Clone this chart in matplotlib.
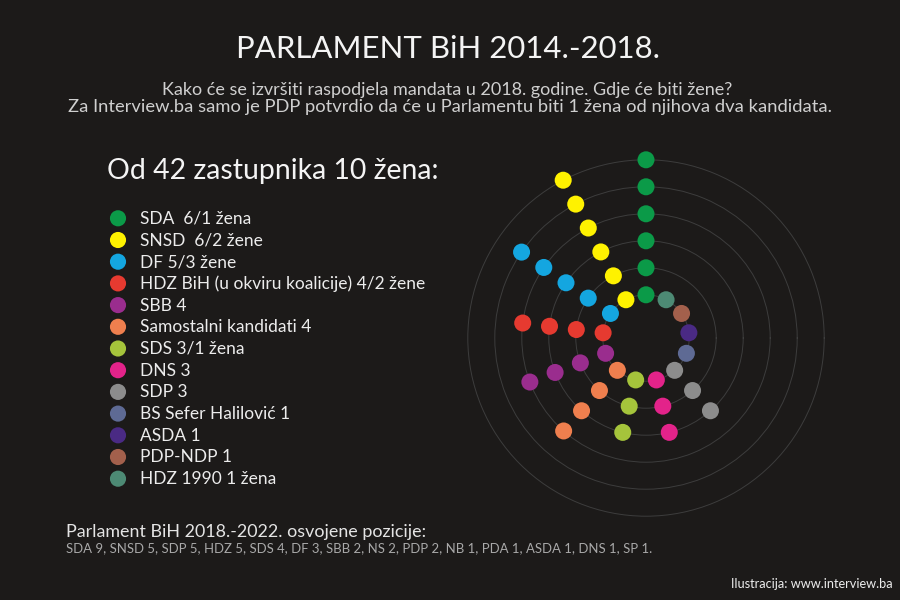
import numpy as np
import matplotlib
matplotlib.use("Agg")
import matplotlib.pyplot as plt

plt.rcParams['font.family'] = ['Lato', 'DejaVu Sans']

# ---- data ----
parties = ['SDA', 'SNSD', 'DF', 'HDZ BiH', 'SBB', 'Samostalni kandidati', 'SDS',
           'DNS', 'SDP', 'BS Sefer Halilović', 'ASDA', 'PDP-NDP', 'HDZ 1990']
seats = [6, 6, 5, 4, 4, 4, 3, 3, 3, 1, 1, 1, 1]
women = [1, 2, 3, 2, 0, 0, 1, 0, 0, 0, 0, 0, 1]
legend_labels = ['SDA  6/1 žena', 'SNSD  6/2 žene', 'DF 5/3 žene',
                 'HDZ BiH (u okviru koalicije) 4/2 žene', 'SBB 4',
                 'Samostalni kandidati 4', 'SDS 3/1 žena', 'DNS 3', 'SDP 3',
                 'BS Sefer Halilović 1', 'ASDA 1', 'PDP-NDP 1', 'HDZ 1990 1 žena']
colors = ['#0b9a48', '#fff200', '#14a6e0', '#e63a30', '#9a2d8e', '#ef7f4e',
          '#a5c43b', '#e3238a', '#8c8c8c', '#5e6a94', '#4a2a84', '#a3604c', '#4d8a74']

title = 'PARLAMENT BiH 2014.-2018.'
subtitle1 = 'Kako će se izvršiti raspodjela mandata u 2018. godine. Gdje će biti žene?'
subtitle2 = 'Za Interview.ba samo je PDP potvrdio da će u Parlamentu biti 1 žena od njihova dva kandidata.'
heading = 'Od 42 zastupnika 10 žena:'
bottom_head = 'Parlament BiH 2018.-2022. osvojene pozicije:'
bottom_list = 'SDA 9, SNSD 5, SDP 5, HDZ 5, SDS 4, DF 3, SBB 2, NS 2, PDP 2, NB 1, PDA 1, ASDA 1, DNS 1, SP 1.'
credit = 'Ilustracija: www.interview.ba'

BG = '#1c1a19'
W, H = 900, 600
fig = plt.figure(figsize=(9, 6), dpi=100, facecolor=BG)

# overlay axes in pixel coordinates for texts and legend
ov = fig.add_axes([0, 0, 1, 1])
ov.set_xlim(0, W)
ov.set_ylim(H, 0)
ov.axis('off')
ov.set_facecolor('none')

renderer = fig.canvas.get_renderer()


def fit_text(x, y, s, target_w, fs0=12, **kw):
    t = ov.text(x, y, s, fontsize=fs0, **kw)
    w = t.get_window_extent(renderer).width
    t.set_fontsize(fs0 * target_w / w)
    return t


fit_text(448, 58, title, 423, 24, color='#f4f4f4', ha='center', va='baseline')
fit_text(447, 95, subtitle1, 570, 12, color='#cfcfcf', ha='center', va='baseline')
fit_text(450, 112, subtitle2, 760, 12, color='#cfcfcf', ha='center', va='baseline')
fit_text(107, 179, heading, 331, 19, color='#f4f4f4', ha='left', va='baseline')
fit_text(66, 537, bottom_head, 359, 12, color='#e4e4e4', ha='left', va='baseline')
fit_text(66, 552, bottom_list, 582, 9, color='#a9a9a9', ha='left', va='baseline')
fit_text(893, 588, credit, 163, 9, color='#ececec', ha='right', va='baseline')

# legend
leg_y0, leg_dy = 218.3, 21.7
ys = [leg_y0 + i * leg_dy for i in range(len(parties))]
ov.scatter([118] * len(parties), ys, s=135, c=colors, edgecolors='none', zorder=3)
# size from the longest label
longest = max(range(len(legend_labels)), key=lambda i: len(legend_labels[i]))
tmp = ov.text(0, 0, legend_labels[longest], fontsize=12)
lw = tmp.get_window_extent(renderer).width
tmp.remove()
leg_fs = 12 * 285 / lw
for y, lab in zip(ys, legend_labels):
    ov.text(140, y + 5.5, lab, fontsize=leg_fs, color='#ececec', ha='left', va='baseline')

# radial dot chart
cx, cy = 646, 338
unit = 27.0
rmax = 6.7
R = rmax * unit
ax = fig.add_axes([(cx - R) / W, (H - cy - R) / H, 2 * R / W, 2 * R / H], projection='polar')
ax.set_facecolor('none')
ax.set_ylim(0, rmax)
r0 = 1.6
ring_r = [r0 + k for k in range(6)]
ax.set_rgrids(ring_r, labels=[''] * len(ring_r))
ax.set_thetagrids([])
ax.yaxis.grid(True, color='#3d3d3d', linewidth=0.7)
ax.xaxis.grid(False)
ax.spines['polar'].set_visible(False)
ax.tick_params(labelleft=False, labelbottom=False)

n = len(parties)
for i, (cnt, col) in enumerate(zip(seats, colors)):
    th = np.deg2rad(90 + i * 360.0 / n)
    rs = [r0 + k for k in range(cnt)]
    ax.scatter([th] * cnt, rs, s=150, color=col, edgecolors='none', zorder=3, clip_on=False)

fig.savefig('out.png', dpi=100, facecolor=BG)
